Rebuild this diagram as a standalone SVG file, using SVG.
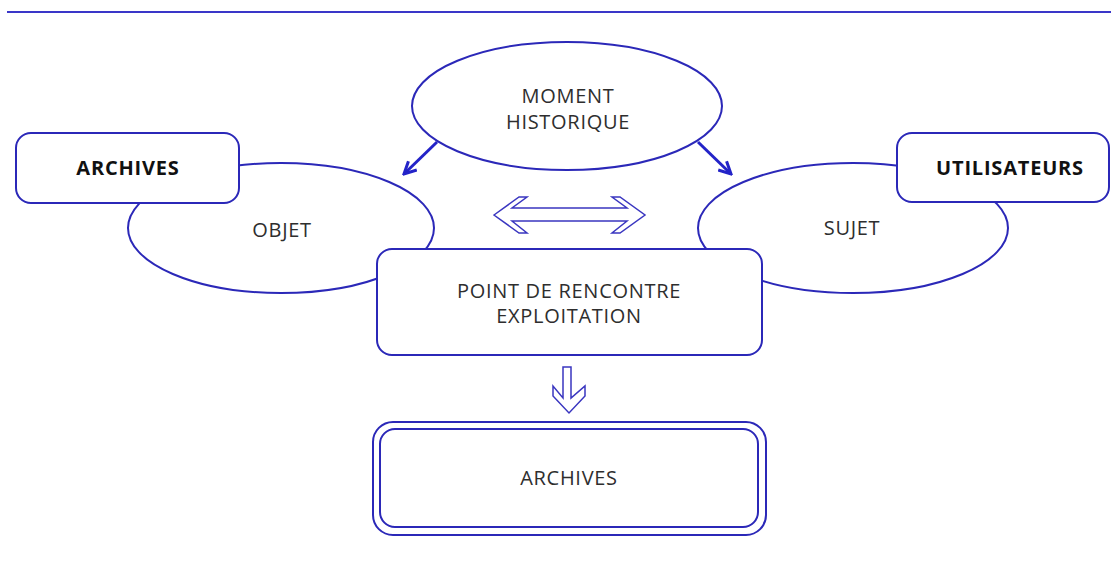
<svg xmlns="http://www.w3.org/2000/svg" width="1111" height="562" viewBox="0 0 1111 562">
<style>
.s{fill:#fff;stroke:#2b28b8;stroke-width:2}
.t{font-family:"Open Sans","Liberation Sans",sans-serif;font-size:20px;letter-spacing:0.7px;fill:#2e2e2e;text-anchor:middle}
.b{font-weight:700;fill:#111;letter-spacing:0.8px}
.c{fill:none;stroke:#2323c8;stroke-width:3}
.h{fill:#fff;stroke:#3a36c0;stroke-width:1.5;stroke-linejoin:miter}
</style>
<defs>
<marker id="v" viewBox="0 0 10 10" refX="9" refY="5" markerWidth="5" markerHeight="5" orient="auto" markerUnits="strokeWidth">
<path d="M1,1 L9,5 L1,9" fill="none" stroke="#2323c8" stroke-width="2"/>
</marker>
</defs>
<line x1="7" y1="12" x2="1111" y2="12" stroke="#3a36c8" stroke-width="2"/>
<g id="objet">
<ellipse class="s" cx="281" cy="228" rx="153" ry="65"/>
<text class="t" x="282" y="237">OBJET</text>
</g>
<g id="archives-source">
<rect class="s" x="16" y="133" width="223" height="70" rx="15"/>
<text class="t b" x="128" y="175">ARCHIVES</text>
</g>
<g id="sujet">
<ellipse class="s" cx="853" cy="228" rx="155" ry="65"/>
<text class="t" x="852" y="235">SUJET</text>
</g>
<g id="utilisateurs">
<rect class="s" x="897" y="133" width="212" height="69" rx="15"/>
<text class="t b" x="1010" y="175">UTILISATEURS</text>
</g>
<g id="moment">
<ellipse class="s" cx="567" cy="106" rx="155" ry="64"/>
<text class="t" x="568" y="103">MOMENT</text>
<text class="t" x="568" y="129">HISTORIQUE</text>
</g>
<g id="rencontre">
<rect class="s" x="377" y="249" width="385" height="106" rx="15"/>
<text class="t" x="569" y="298">POINT DE RENCONTRE</text>
<text class="t" x="569" y="323">EXPLOITATION</text>
</g>
<g id="archives-result">
<rect class="s" x="373" y="422" width="393" height="113" rx="20"/>
<rect class="s" x="380" y="429" width="378" height="98" rx="15"/>
<text class="t" x="569" y="485">ARCHIVES</text>
</g>
<g id="connectors">
<line class="c" x1="437" y1="142" x2="404" y2="174" marker-end="url(#v)"/>
<line class="c" x1="698" y1="142" x2="731" y2="174" marker-end="url(#v)"/>
<path class="h" d="M494,215 L519,197 L527,197 L512,208 L627,208 L612,197 L620,197 L645,215 L620,233 L612,233 L627,221 L512,221 L527,233 L519,233 Z"/>
<path class="h" d="M563,367 L571,367 L571,398 L585,386 L585,396 L569,413 L553,396 L553,386 L563,398 Z"/>
</g>
</svg>
